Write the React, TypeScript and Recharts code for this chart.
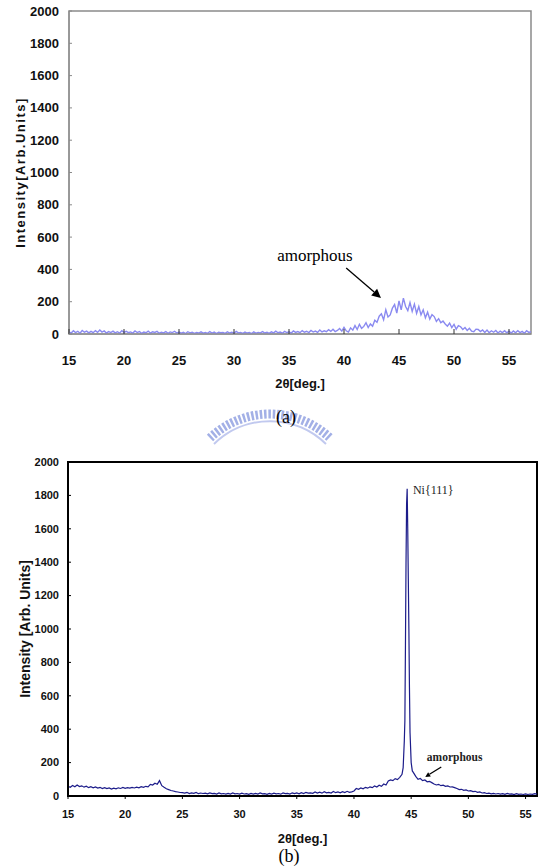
import {
  LineChart,
  Line,
  XAxis,
  YAxis,
  Label,
  ReferenceArea,
  ReferenceLine,
  ReferenceDot,
} from 'recharts'

// (a) scan: 2θ from 15 to 57 in 0.2° steps
const A_START = 15
const A_STEP = 0.2
const A_INTENSITY = [
  14, 6, 20, 9, 17, 5, 22, 11, 18, 7,
  16, 8, 21, 10, 25, 12, 19, 6, 15, 9,
  18, 7, 14, 5, 20, 10, 17, 8, 13, 6,
  19, 9, 15, 4, 12, 8, 18, 6, 14, 10,
  16, 5, 11, 7, 15, 4, 13, 9, 17, 6,
  12, 5, 10, 3, 14, 7, 11, 4, 9, 6,
  13, 5, 10, 4, 15, 6, 12, 3, 11, 8,
  9, 4, 14, 6, 11, 5, 16, 7, 10, 4,
  12, 6, 9, 3, 13, 5, 10, 7, 15, 6,
  11, 4, 13, 7, 18, 8, 12, 5, 16, 9,
  14, 6, 19, 10, 15, 8, 21, 11, 17, 9,
  22, 12, 18, 10, 25, 13, 20, 14, 27, 16,
  30, 15, 22, 34, 18, 41, 20, 12, 38, 24,
  52, 28, 60, 35, 47, 70, 40, 62, 48, 85,
  72, 110, 125, 88, 150, 105, 118, 160, 182, 130,
  205, 150, 222, 170, 145, 195, 140, 185, 128, 170,
  118, 150, 100, 135, 92, 120, 108, 78, 95, 70,
  80, 62, 48, 68, 40, 60, 30, 52, 45, 28,
  40, 22, 35, 18, 14, 30, 28, 15, 25, 10,
  24, 8, 20, 11, 22, 6, 18, 9, 20, 7,
  17, 6, 19, 8, 21, 9, 16, 5, 20, 10,
  14,
]

// (b) scan: 2θ from 15 to 56 in 0.2° steps, plus finer points on the Ni(111) peak
const B_START = 15
const B_STEP = 0.2
const B_INTENSITY = [
  58, 52, 63, 55, 66, 57, 61, 53, 59, 50,
  56, 49, 54, 47, 52, 45, 50, 44, 48, 42,
  47, 43, 49, 45, 51, 46, 50, 47, 52, 48,
  53, 49, 56, 52, 58, 55, 70, 66, 76, 70,
  92, 62, 52, 43, 38, 33, 30, 26, 24, 21,
  20, 17, 22, 15, 19, 16, 21, 14, 18, 15,
  17, 13, 19, 14, 16, 12, 18, 13, 15, 11,
  16, 12, 18, 13, 15, 11, 17, 12, 14, 10,
  15, 11, 16, 12, 18, 13, 14, 10, 16, 12,
  17, 13, 15, 11, 18, 14, 16, 12, 19, 14,
  18, 13, 20, 15, 22, 17, 19, 16, 24, 18,
  23, 17, 26, 19, 22, 18, 27, 20, 24, 19,
  26, 21, 28, 22, 25, 30, 45, 40, 48, 43,
  52, 47, 55, 50, 60, 54, 64, 58, 72, 66,
  90, 96, 92, 104, 98, 112, 130, 330, 1750, 1000,
  200, 140, 118, 100, 105, 92, 96, 85, 88, 80,
  72, 66, 70, 62, 65, 58, 60, 54, 55, 50,
  45, 38, 40, 34, 36, 30, 32, 26, 28, 22,
  24, 18, 20, 15, 17, 13, 16, 12, 15, 11,
  14, 10, 15, 11, 13, 9, 14, 10, 12, 9,
  13, 9, 12, 10, 14, 11,
]
const B_PEAK_THETA = [44.3, 44.45, 44.5, 44.55, 44.65, 44.7, 44.75, 44.85, 44.9, 45.1]
const B_PEAK_INTENSITY = [170, 450, 900, 1400, 1840, 1600, 1300, 650, 380, 150]

const X_TICKS = [15, 20, 25, 30, 35, 40, 45, 50, 55]
const Y_TICKS = [0, 200, 400, 600, 800, 1000, 1200, 1400, 1600, 1800, 2000]

const SANS = '"Liberation Sans", Arial, sans-serif'
const SERIF = '"Liberation Serif", "Times New Roman", serif'

type Row = { theta: number; intensity: number }

function buildScan(start: number, step: number, values: number[]): Row[] {
  return values.map((v, i) => ({ theta: Math.round((start + step * i) * 100) / 100, intensity: v }))
}

function buildB(): Row[] {
  const rows = buildScan(B_START, B_STEP, B_INTENSITY)
  B_PEAK_THETA.forEach((t, i) => rows.push({ theta: t, intensity: B_PEAK_INTENSITY[i] }))
  return rows.sort((a, b) => a.theta - b.theta)
}

// ticks: tickSize/tickMargin are 0, so x/y sit on the axis line
function xTick(color: string, tickLen: number, labelDy: number, fontSize: number) {
  return (props: any) => {
    const { x, y, payload } = props
    return (
      <g>
        <line x1={x} x2={x} y1={y} y2={y + tickLen} stroke={color} />
        <text
          x={x}
          y={y + labelDy}
          dy="0.35em"
          textAnchor="middle"
          fontFamily={SANS}
          fontWeight="bold"
          fontSize={fontSize}
          fill="#111"
        >
          {payload.value}
        </text>
      </g>
    )
  }
}

function yTick(color: string, tickLen: number, gap: number, fontSize: number) {
  return (props: any) => {
    const { x, y, payload } = props
    return (
      <g>
        <line x1={x} x2={x + tickLen} y1={y} y2={y} stroke={color} />
        <text
          x={x - gap}
          y={y}
          dy="0.35em"
          textAnchor="end"
          fontFamily={SANS}
          fontWeight="bold"
          fontSize={fontSize}
          fill="#111"
        >
          {payload.value}
        </text>
      </g>
    )
  }
}

function arrowShape(head: number, width: number) {
  return (props: any) => {
    const { x1, y1, x2, y2 } = props
    const ang = Math.atan2(y2 - y1, x2 - x1)
    const bx = x2 - head * Math.cos(ang)
    const by = y2 - head * Math.sin(ang)
    const px = width * Math.sin(ang)
    const py = -width * Math.cos(ang)
    return (
      <g>
        <line x1={x1} y1={y1} x2={bx} y2={by} stroke="#000" strokeWidth={1.3} />
        <polygon points={`${x2},${y2} ${bx + px},${by + py} ${bx - px},${by - py}`} fill="#000" />
      </g>
    )
  }
}

function ChartA() {
  const data = buildScan(A_START, A_STEP, A_INTENSITY)
  return (
    <LineChart width={554} height={400} data={data} margin={{ top: 11, right: 23, bottom: 36, left: 9 }}>
      <ReferenceArea x1={15} x2={57} y1={0} y2={2000} fill="none" stroke="#8a8a8a" strokeWidth={1.5} />
      <XAxis
        dataKey="theta"
        type="number"
        domain={[15, 57]}
        ticks={X_TICKS}
        interval={0}
        height={30}
        tickSize={0}
        tickMargin={0}
        stroke="#8a8a8a"
        tick={xTick('#333', -5, 26, 13)}
        allowDataOverflow
      >
        <Label
          value="2θ[deg.]"
          position="bottom"
          offset={15}
          fontFamily={SANS}
          fontWeight="bold"
          fontSize={13}
          fill="#111"
        />
      </XAxis>
      <YAxis
        type="number"
        domain={[0, 2000]}
        ticks={Y_TICKS}
        interval={0}
        width={60}
        tickSize={0}
        tickMargin={0}
        stroke="#8a8a8a"
        tick={yTick('#8a8a8a', 3, 10, 13)}
      >
        <Label
          value="Intensity[Arb.Units]"
          position="insideLeft"
          angle={-90}
          offset={11}
          fontFamily={SANS}
          fontWeight="bold"
          fontSize={13}
          fill="#111"
          style={{ textAnchor: 'middle', letterSpacing: '1.5px' }}
        />
      </YAxis>
      <Line
        type="linear"
        dataKey="intensity"
        stroke="#8a8af0"
        strokeWidth={1.4}
        dot={false}
        activeDot={false}
        isAnimationActive={false}
      />
      <ReferenceLine
        segment={[
          { x: 40.2, y: 409 },
          { x: 43.36, y: 223 },
        ]}
        shape={arrowShape(9, 4.5)}
      />
      <ReferenceDot
        x={37.36}
        y={489}
        r={0}
        fill="none"
        stroke="none"
        label={{ value: 'amorphous', position: 'center', fontFamily: SERIF, fontSize: 17, fill: '#000' }}
      />
    </LineChart>
  )
}

function ChartB() {
  const data = buildB()
  return (
    <LineChart width={554} height={420} data={data} margin={{ top: 22, right: 17, bottom: 34, left: 8 }}>
      <ReferenceArea x1={15} x2={56} y1={0} y2={2000} fill="none" stroke="#000" strokeWidth={2} />
      <XAxis
        dataKey="theta"
        type="number"
        domain={[15, 56]}
        ticks={X_TICKS}
        interval={0}
        height={30}
        tickSize={0}
        tickMargin={0}
        stroke="#000"
        strokeWidth={2}
        tick={xTick('#000', 3, 18, 11)}
        allowDataOverflow
      >
        <Label
          value="2θ[deg.]"
          position="bottom"
          offset={8}
          fontFamily={SANS}
          fontWeight="bold"
          fontSize={13}
          fill="#111"
        />
      </XAxis>
      <YAxis
        type="number"
        domain={[0, 2000]}
        ticks={Y_TICKS}
        interval={0}
        width={60}
        tickSize={0}
        tickMargin={0}
        stroke="#000"
        strokeWidth={2}
        tick={yTick('#000', 3, 9, 11)}
      >
        <Label
          value="Intensity [Arb. Units]"
          position="insideLeft"
          angle={-90}
          offset={17}
          fontFamily={SANS}
          fontWeight="bold"
          fontSize={14}
          fill="#111"
          style={{ textAnchor: 'middle' }}
        />
      </YAxis>
      <Line
        type="linear"
        dataKey="intensity"
        stroke="#1c1c8a"
        strokeWidth={1.2}
        dot={false}
        activeDot={false}
        isAnimationActive={false}
      />
      <ReferenceLine
        segment={[
          { x: 47.63, y: 174 },
          { x: 46.23, y: 114 },
        ]}
        shape={arrowShape(5, 2.5)}
      />
      <ReferenceDot
        x={48.8}
        y={234}
        r={0}
        fill="none"
        stroke="none"
        label={{
          value: 'amorphous',
          position: 'center',
          fontFamily: SERIF,
          fontWeight: 'bold',
          fontSize: 11.5,
          fill: '#222',
        }}
      />
      <ReferenceDot
        x={46.93}
        y={1832}
        r={0}
        fill="none"
        stroke="none"
        label={{ value: 'Ni{111}', position: 'center', fontFamily: SERIF, fontSize: 12, fill: '#222' }}
      />
    </LineChart>
  )
}

function Emblem() {
  // faint gear-like arc behind the "(a)" caption
  return (
    <svg width={150} height={50} style={{ position: 'absolute', left: 200, top: 400 }}>
      <path d="M 10 38 A 87 87 0 0 1 130 38" fill="none" stroke="#a3b0e6" strokeWidth={9} strokeDasharray="2.5 1.8" />
      <path d="M 14 44 A 80 80 0 0 1 126 44" fill="none" stroke="#c1c9ef" strokeWidth={2} />
    </svg>
  )
}

const captionStyle: React.CSSProperties = {
  position: 'absolute',
  width: 100,
  textAlign: 'center',
  fontFamily: SERIF,
  fontSize: 18,
  lineHeight: '20px',
  color: '#000',
}

export default function App() {
  return (
    <div style={{ position: 'absolute', left: 0, top: 0, width: 554, height: 867, background: '#fff', overflow: 'hidden' }}>
      <div style={{ position: 'absolute', left: 0, top: 0 }}>
        <ChartA />
      </div>
      <Emblem />
      <div style={{ ...captionStyle, left: 236, top: 407 }}>(a)</div>
      <div style={{ position: 'absolute', left: 0, top: 440 }}>
        <ChartB />
      </div>
      <div style={{ ...captionStyle, left: 239, top: 846 }}>(b)</div>
    </div>
  )
}
